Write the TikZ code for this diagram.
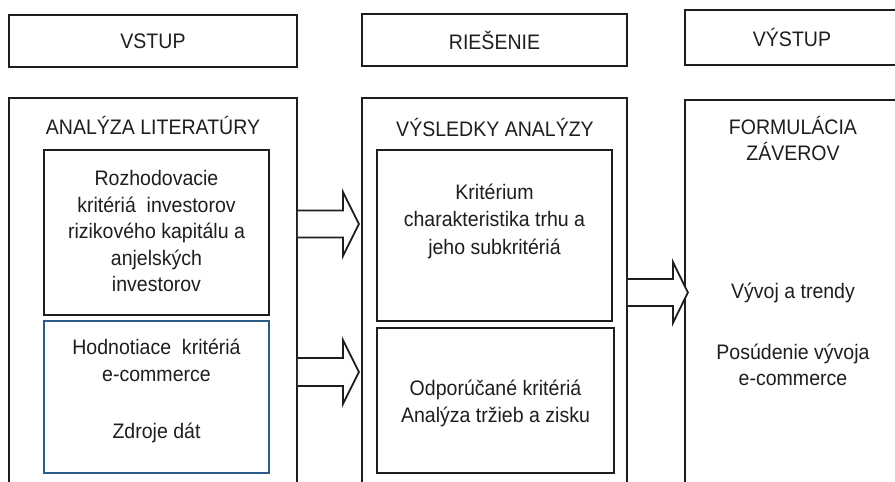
\documentclass[tikz,border=0pt]{standalone}
\usepackage{fontspec}
\setmainfont{Liberation Sans}[FakeStretch=0.93]
\usetikzlibrary{calc}
\definecolor{ink}{HTML}{1E1E1E}
\definecolor{bluebox}{HTML}{2E5A88}
\begin{document}
\begin{tikzpicture}[x=1pt,y=-1pt,
  frame/.style={draw=ink, line width=1.8pt, inner sep=0pt},
  blueframe/.style={draw=bluebox, line width=1.6pt, inner sep=0pt},
  txt/.style={text=ink, font=\fontsize{21}{26.5}\selectfont, align=center, inner sep=0pt},
  blockarrow/.style={draw=ink, line width=1.8pt, fill=white, line join=miter}]
\useasboundingbox (0,0) rectangle (895,482);
\fill[white] (0,0) rectangle (895,482);
\clip (0,0) rectangle (895,482);

% header boxes
\node[frame, txt, minimum width=288pt, minimum height=52pt] (vstup) at (153,41) {VSTUP};
\node[frame, txt, minimum width=265pt, minimum height=52pt] (ries) at (494.5,40) {RIEŠENIE};
\node[frame, txt, minimum width=214pt, minimum height=55pt] (vystup) at (792,37.5) {VÝSTUP};

% column boxes (bottom edge lies outside the picture)
\node[frame, minimum width=288pt, minimum height=430pt] (colL) at (153,313) {};
\node[frame, minimum width=265pt, minimum height=430pt] (colM) at (494.5,313) {};
\node[frame, minimum width=214pt, minimum height=430pt] (colR) at (792,315) {};

\node[txt] (tL) at (153,125) {ANALÝZA LITERATÚRY};
\node[txt] (tM) at (495,127) {VÝSLEDKY ANALÝZY};
\node[txt] (tR) at (793,138.5) {FORMULÁCIA\\ZÁVEROV};

% left inner boxes
\node[frame, minimum width=225pt, minimum height=165pt] (rozh) at (156.5,232.5) {};
\node[txt] (rozhT) at (156.5,231) {Rozhodovacie\\kritériá\ \ investorov\\rizikového kapitálu a\\anjelských\\investorov};
\node[blueframe, minimum width=225pt, minimum height=152pt] (hodn) at (156.5,397) {};
\node[txt] (hodnT) at (156.5,360.5) {Hodnotiace\ \ kritériá\\e-commerce};
\node[txt] (zdroj) at (156.5,433) {Zdroje dát};

% middle inner boxes
\node[frame, minimum width=235pt, minimum height=171pt] (krit) at (494.5,235.5) {};
\node[txt, font=\fontsize{21}{27.5}\selectfont] (kritT) at (494.5,221) {Kritérium\\charakteristika trhu a\\jeho subkritériá};
\node[frame, minimum width=237pt, minimum height=145pt] (odpo) at (495.5,400.5) {};
\node[txt, font=\fontsize{21}{27}\selectfont] (odpoT) at (495.5,403.5) {Odporúčané kritériá\\Analýza tržieb a zisku};

% right texts
\node[txt] (vyvoj) at (793,293) {Vývoj a trendy};
\node[txt] (posud) at (793,365) {Posúdenie vývoja\\e-commerce};

% block arrows
\coordinate (a1) at (colL.east |- 0,224);
\coordinate (a2) at (colL.east |- 0,372);
\coordinate (a3) at (colM.east |- 0,292.5);
\draw[blockarrow] ($(a1)+(0,-13.5)$) -- ($(a1)+(45,-13.5)$) -- ($(a1)+(45,-32)$) -- ($(a1)+(61,0)$) -- ($(a1)+(45,32)$) -- ($(a1)+(45,13.5)$) -- ($(a1)+(0,13.5)$);
\draw[blockarrow] ($(a2)+(0,-14)$) -- ($(a2)+(45,-14)$) -- ($(a2)+(45,-32)$) -- ($(a2)+(61,0)$) -- ($(a2)+(45,32)$) -- ($(a2)+(45,14)$) -- ($(a2)+(0,14)$);
\draw[blockarrow] ($(a3)+(0,-13.5)$) -- ($(a3)+(45,-13.5)$) -- ($(a3)+(45,-30.5)$) -- ($(a3)+(60,0)$) -- ($(a3)+(45,30.5)$) -- ($(a3)+(45,13.5)$) -- ($(a3)+(0,13.5)$);
\end{tikzpicture}
\end{document}
